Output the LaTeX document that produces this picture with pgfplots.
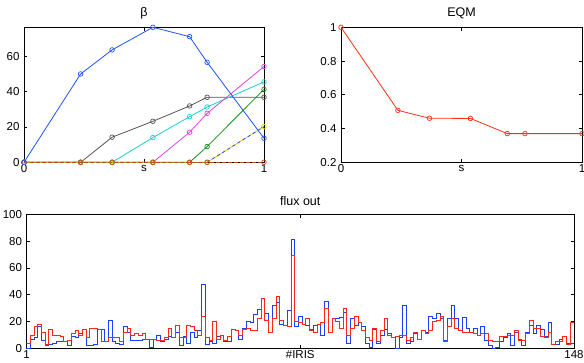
\documentclass[border=0pt]{standalone}
\usepackage{fontspec}
\setmainfont{Liberation Sans}
\usepackage{pgfplots}
\pgfplotsset{compat=1.18}
\usepackage{pgfplotstable}
\usetikzlibrary{plotmarks}

\definecolor{mblue}{rgb}{0.12,0.32,1}
\definecolor{mgray}{rgb}{0.33,0.33,0.33}
\definecolor{mcyan}{rgb}{0.1,0.82,0.82}
\definecolor{mmag}{rgb}{0.88,0.25,0.88}
\definecolor{mgreen}{rgb}{0.1,0.55,0.1}
\definecolor{myellow}{rgb}{0.85,0.82,0.0}
\definecolor{mbrown}{rgb}{0.75,0.28,0.12}
\definecolor{mred}{rgb}{1,0.18,0.08}
\definecolor{fblue}{rgb}{0.1,0.25,1}
\definecolor{fred}{rgb}{1,0.15,0.1}

\pgfplotstableread{
s b k c m g y z
0     0    0    0    0    0    0    0
0.236 50   0    0    0    0    0    0
0.367 63.6 14.2 0    0    0    0    0
0.537 76.4 23.2 14   0    0    0    0
0.690 71.1 31.9 25.8 17   0    0    0
0.763 56.6 36.8 31.3 27.7 8.9  0    0
1     13.6 36.8 45.5 54.2 41.3 20.2 0
}\betadata

\pgfplotstableread{
s e
0     1
0.236 0.508
0.367 0.461
0.537 0.460
0.690 0.370
0.763 0.370
1     0.370
}\eqmdata

\pgfplotstableread{
i b r
1 0 4
2 7 10
3 8 16
4 16 18
5 6 12
6 2 3
7 3 14
8 4 10
9 5 10
10 5 9
11 5 5
12 2 6
13 9 11
14 8 13
15 11 10
16 14 14
17 2 8
18 2 15
19 3 15
20 14 14
21 14 5
22 5 5
23 21 8
24 5 8
25 4 8
26 3 5
27 16 12
28 12 15
29 6 10
30 6 11
31 6 10
32 7 11
33 7 7
34 1 7
35 7 7
36 10 6
37 5 6
38 7 8
39 9 15
40 8 8
41 12 17
42 2 8
43 9 8
44 4 17
45 12 16
46 8 13
47 13 10
48 48 24
49 3 8
50 5 6
51 4 20
52 9 7
53 10 10
54 5 6
55 5 9
56 14 14
57 13 13
58 7 10
59 15 14
60 20 15
61 19 13
62 25 13
63 29 22
64 37 37
65 26 21
66 12 12
67 32 22
68 34 39
69 18 21
70 17 17
71 28 16
72 81 69
73 16 20
74 24 19
75 18 18
76 17 22
77 14 13
78 17 12
79 18 18
80 10 19
81 35 30
82 12 12
83 22 22
84 22 20
85 23 15
86 27 30
87 4 10
88 22 15
89 17 24
90 19 19
91 16 13
92 4 8
93 1 6
94 14 15
95 4 5
96 10 13
97 14 22
98 11 10
99 8 8
100 0 9
101 8 10
102 32 10
103 4 6
104 5 8
105 11 12
106 7 7
107 13 13
108 12 11
109 24 13
110 22 20
111 26 21
112 22 24
113 6 5
114 22 16
115 32 22
116 22 15
117 13 13
118 23 12
119 15 12
120 12 12
121 15 11
122 10 10
123 16 11
124 6 11
125 2 6
126 0 5
127 1 5
128 5 9
129 8 9
130 11 10
131 2 10
132 12 13
133 7 6
134 2 6
135 12 11
136 17 21
137 11 15
138 17 15
139 14 9
140 9 8
141 19 12
142 3 3
143 3 5
144 7 5
145 9 9
146 4 3
147 4 19
148 1 19
}\fluxdata

\pgfplotsset{
  mstyle/.style={
    scale only axis,
    anchor=south west,
    font=\fontsize{11.5}{13}\selectfont,
    tick label style={font=\fontsize{11.5}{13}\selectfont},
    title style={font=\fontsize{12.5}{14}\selectfont, yshift=-1pt},
    /pgf/number format/assume math mode=true,
    tick align=inside,
    major tick length=3.5pt,
    axis line style={line width=0.9pt},
    every tick/.style={black, line width=0.7pt},
    xtick pos=both, ytick pos=both,
    minor tick num=0,
    yticklabel style={xshift=-1pt},
    xticklabel style={yshift=1pt},
  },
  bl/.style={line width=0.8pt, mark=o, mark size=2.3pt, mark options={solid, line width=0.7pt}},
}

\begin{document}
\begin{tikzpicture}
\path[use as bounding box] (0pt,0pt) rectangle (584pt,362pt);

% beta paths
\begin{axis}[mstyle, at={(24pt,199.7pt)}, width=240pt, height=135pt,
  xmin=0, xmax=1, ymin=0, ymax=76.4,
  xtick={0,0.5,1}, xticklabels={0,s,1},
  ytick={0,20,40,60},
  title={β}, clip=false]
\addplot[bl, color=mgray] table[x=s,y=k] {\betadata};
\addplot[bl, color=mcyan] table[x=s,y=c] {\betadata};
\addplot[bl, color=mmag] table[x=s,y=m] {\betadata};
\addplot[bl, color=mgreen] table[x=s,y=g] {\betadata};
\addplot[bl, color=myellow] table[x=s,y=y] {\betadata};
\addplot[line width=0.8pt, color=mblue, dashed, dash pattern=on 3pt off 3pt] coordinates {(0.763,0) (1,20.2)};
\addplot[bl, color=mbrown, dashed, dash pattern=on 4pt off 2pt] table[x=s,y=z] {\betadata};
\addplot[bl, color=mblue] table[x=s,y=b] {\betadata};
\end{axis}

% EQM
\begin{axis}[mstyle, at={(341pt,199.7pt)}, width=241pt, height=135pt,
  xmin=0, xmax=1, ymin=0.2, ymax=1,
  xtick={0,0.5,1}, xticklabels={0,s,1},
  ytick={0.2,0.4,0.6,0.8,1},
  yticklabels={0.2,0.4,0.6,0.8,1},
  title={EQM}, clip=false]
\addplot[bl, color=mred] table[x=s,y=e] {\eqmdata};
\end{axis}

% flux out
\begin{axis}[mstyle, at={(26.5pt,13.7pt)}, width=547.5pt, height=134pt,
  xmin=1, xmax=148, ymin=0, ymax=100,
  xtick={1,74.5,148}, xticklabels={1,\#IRIS,148},
  ytick={0,20,40,60,80,100},
  title={flux out}]
\addplot[const plot, line width=0.8pt, color=fblue] table[x=i,y=b] {\fluxdata};
\addplot[const plot, line width=0.8pt, color=fred] table[x=i,y=r] {\fluxdata};
\end{axis}
\end{tikzpicture}
\end{document}
